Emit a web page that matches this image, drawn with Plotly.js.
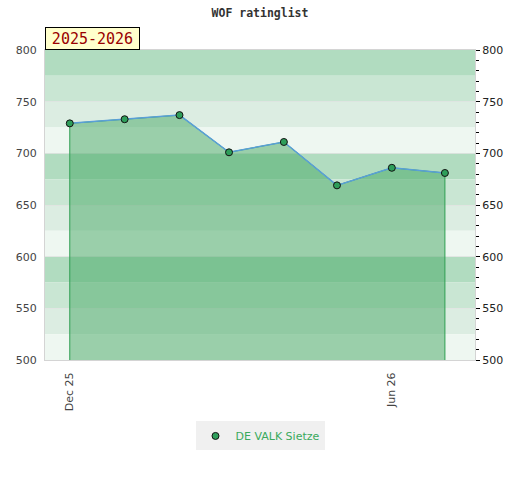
<!DOCTYPE html>
<html>
<head>
<meta charset="utf-8">
<script src="https://cdn.plot.ly/plotly-3.0.1.min.js"></script>
<style>html,body{margin:0;padding:0;background:#fff;}#chart{width:520px;height:480px;}</style>
</head>
<body>
<div id="chart"></div>
<script>
// ---- data ----
const months = ['2025-12-01','2026-01-01','2026-02-01','2026-03-01','2026-04-01','2026-05-01','2026-06-01','2026-07-01'];
const ratings = [729, 733, 737, 701, 711, 669, 686, 681];
const playerName = 'DE VALK Sietze';
const seasonLabel = '2025-2026';
const chartTitle = 'WOF ratinglist';
const xTickVals = ['2025-12-01','2026-06-01'];
const xTickText = ['Dec 25','Jun 26'];
const yMin = 500, yMax = 800;
const xRange = ['2025-11-17','2026-07-18'];

// ---- styling ----
const bandColors = ['#b1dcc0','#c9e6d3','#dcede2','#eef7f1'];
const bandStep = 25;

const shapes = [];
let k = 0;
for (let top = yMax; top > yMin; top -= bandStep, k++) {
  shapes.push({type:'rect', xref:'paper', yref:'y', x0:0, x1:1, y0:top - bandStep, y1:top,
    fillcolor: bandColors[k % bandColors.length], line:{width:0}, layer:'below'});
}

// area polygon built from the data
const areaX = [months[0]].concat(months, [months[months.length-1]]);
const areaY = [yMin].concat(ratings, [yMin]);

const traces = [
  {x: areaX, y: areaY, type:'scatter', mode:'lines', fill:'toself',
   fillcolor:'rgba(70,168,100,0.5)', line:{color:'#2f9f52', width:1},
   hoverinfo:'skip', showlegend:false},
  {x: months, y: ratings, type:'scatter', mode:'lines',
   line:{color:'#5a9fd8', width:1.5}, showlegend:false},
  {x: months, y: ratings, type:'scatter', mode:'markers', name: playerName,
   marker:{color:'#2e9e5a', size:7, line:{color:'#111', width:1}}},
  {x: [months[0]], y: [ratings[0]], yaxis:'y2', type:'scatter', mode:'markers',
   marker:{opacity:0}, showlegend:false, hoverinfo:'skip'}
];

const tickFont = {family:'DejaVu Sans, Verdana, sans-serif', size:11, color:'#444'};

const layout = {
  width:520, height:480,
  margin:{l:45, r:45, t:50, b:120},
  paper_bgcolor:'#fff', plot_bgcolor:'#fff',
  title:{text: chartTitle, x:0.5, xanchor:'center', y:1 - 13/480, yanchor:'middle',
    font:{family:'DejaVu Sans Mono, monospace', size:11.5, color:'#333', weight:'bold'}},
  xaxis:{type:'date', range:xRange, tickvals:xTickVals, ticktext:xTickText, tickangle:-90,
    tickfont:tickFont, showgrid:false, zeroline:false, ticks:'', ticklabelstandoff:7,
    showline:true, mirror:true, linecolor:'#d4d4d4', linewidth:1},
  yaxis:{range:[yMin,yMax], dtick:50, tick0:500, tickfont:tickFont, showgrid:true,
    gridcolor:'rgba(225,225,225,0.7)', gridwidth:1, zeroline:false, ticks:'', ticklabelstandoff:5,
    showline:true, mirror:true, linecolor:'#d4d4d4', linewidth:1},
  yaxis2:{range:[yMin,yMax], overlaying:'y', side:'right', dtick:50, tick0:500,
    tickfont:{family:'DejaVu Sans, Verdana, sans-serif', size:11, color:'#222'},
    ticks:'outside', ticklen:4, tickcolor:'#000', tickwidth:1,
    minor:{dtick:10, ticks:'outside', ticklen:3, tickcolor:'#000', tickwidth:1, showgrid:false},
    showgrid:false, zeroline:false, showline:false},
  shapes: shapes,
  annotations:[{text: seasonLabel, xref:'paper', yref:'paper', x:0, y:1, xanchor:'left', yanchor:'bottom',
    showarrow:false, bgcolor:'#ffffcc', bordercolor:'#000', borderwidth:1, borderpad:2,
    width:89, height:17, align:'center',
    font:{family:'DejaVu Sans Mono, monospace', size:15, color:'#990000'}}],
  legend:{orientation:'h', x:0.5, xanchor:'center', y:-0.245, yanchor:'middle', itemwidth:30,
    bgcolor:'#f0f0f0', font:{family:'DejaVu Sans, Verdana, sans-serif', size:11, color:'#3aaa5c'}},
  showlegend:true,
  hovermode:false
};

Plotly.newPlot('chart', traces, layout, {displayModeBar:false, staticPlot:true});
</script>
</body>
</html>
